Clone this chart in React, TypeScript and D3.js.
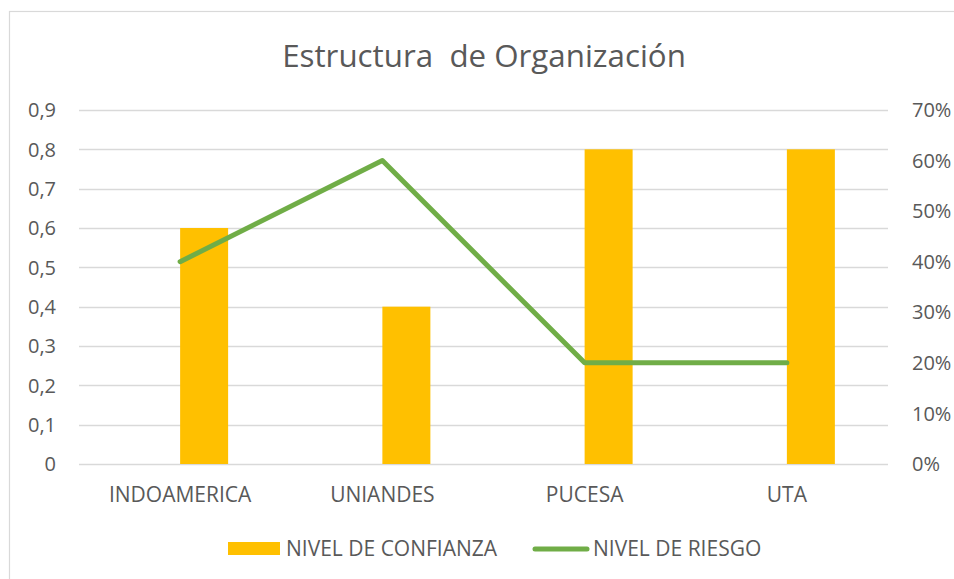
import React from "react";
import * as d3 from "d3";

const categories = ["INDOAMERICA", "UNIANDES", "PUCESA", "UTA"];
const confianza = [0.6, 0.4, 0.8, 0.8];
const riesgo = [0.4, 0.6, 0.2, 0.2];
const leftTicks = [0, 0.1, 0.2, 0.3, 0.4, 0.5, 0.6, 0.7, 0.8, 0.9];
const rightTicks = [0, 0.1, 0.2, 0.3, 0.4, 0.5, 0.6, 0.7];
const title = "Estructura  de Organización";
const seriesNames = ["NIVEL DE CONFIANZA", "NIVEL DE RIESGO"];

const W = 954;
const H = 579;
const FONT = "'Open Sans', sans-serif";
const TXT = "#595959";

export default function App() {
  const left = 79, right = 888, top = 110, bottom = 464;
  const x = d3.scaleBand<string>().domain(categories).range([left, right]).paddingInner(0).paddingOuter(0);
  const sub = d3.scaleBand<string>().domain(["blank", "conf"]).range([0, x.bandwidth()]).paddingInner(0).paddingOuter(1.107);
  const yL = d3.scaleLinear().domain([0, 0.9]).range([bottom, top]);
  const yR = d3.scaleLinear().domain([0, 0.7]).range([bottom, top]);
  const fmtL = (v: number) => (v === 0 ? "0" : d3.format(".1f")(v).replace(".", ","));
  const fmtR = d3.format(".0%");
  const cx = (c: string) => (x(c) as number) + x.bandwidth() / 2;
  const line = d3.line<number>().x((_, i) => cx(categories[i])).y((d) => yR(d));

  return (
    <svg width={W} height={H} style={{ position: "absolute", left: 0, top: 0 }} fontFamily={FONT}>
      <rect x={0} y={0} width={W} height={H} fill="#fff" />
      <rect x={9.5} y={11.5} width={1200} height={1200} fill="none" stroke="#D9D9D9" strokeWidth={1.2} />
      <text x={484} y={67} textAnchor="middle" fontSize={31.3} fill={TXT} style={{ whiteSpace: "pre" }}>{title}</text>
      {leftTicks.map((t) => (
        <g key={"g" + t}>
          <line x1={left} x2={right} y1={Math.round(yL(t)) + 0.5} y2={Math.round(yL(t)) + 0.5} stroke="#D9D9D9" strokeWidth={1.3} />
          <text x={56} y={yL(t)} dy="0.36em" textAnchor="end" fontSize={20} fill={TXT}>{fmtL(t)}</text>
        </g>
      ))}
      {rightTicks.map((t) => (
        <text key={"r" + t} x={912} y={yR(t)} dy="0.36em" fontSize={20} fill={TXT}>{fmtR(t)}</text>
      ))}
      {categories.map((c, i) => (
        <rect key={"b" + c} x={(x(c) as number) + (sub("conf") as number)} y={yL(confianza[i])} width={sub.bandwidth()} height={bottom - yL(confianza[i])} fill="#FFC000" />
      ))}
      <path d={line(riesgo) as string} fill="none" stroke="#70AD47" strokeWidth={5} strokeLinecap="round" strokeLinejoin="round" />
      {categories.map((c) => (
        <text key={"c" + c} x={cx(c)} y={502} textAnchor="middle" fontSize={21} fill={TXT}>{c}</text>
      ))}
      <rect x={228} y={542} width={52} height={13} fill="#FFC000" />
      <text x={286} y={556} fontSize={21} fill={TXT}>{seriesNames[0]}</text>
      <line x1={535} x2={587} y1={549} y2={549} stroke="#70AD47" strokeWidth={5} strokeLinecap="round" />
      <text x={593} y={556} fontSize={21} fill={TXT}>{seriesNames[1]}</text>
    </svg>
  );
}
